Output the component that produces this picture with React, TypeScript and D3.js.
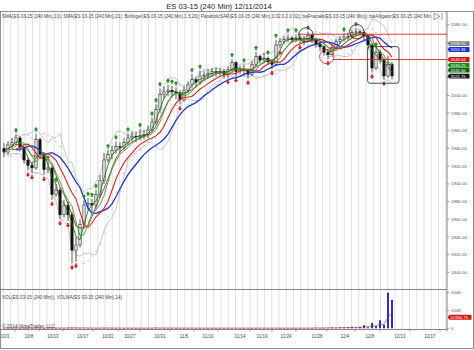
import React from "react";
import * as d3 from "d3";

// ---------- data ----------
const opens = [1940,1936,1944,1947,1952,1941,1927,1921,1918,1950,
 1933,1916,1918,1888,1893,1865,1876,1865,1825,1831,
 1854,1876,1878,1876,1888,1904,1927,1933,1938,1942,
 1941,1947,1952,1954,1953,1955,1956,1961,1970,1984,
 2001,2004,2006,2004,2003,1995,2006,2012,2018,2015,
 2022,2023,2025,2027,2027,2027,2024,2029,2037,2027,
 2029,2029,2024,2035,2044,2040,2042,2038,2035,2057,
 2061,2063,2065,2063,2065,2063,2063,2068,2063,2058,
 2055,2049,2046,2054,2061,2063,2066,2067,2071,2072,
 2071,2067,2057,2031,2049,2040,2022,2035];
const closes = [1936,1944,1947,1952,1941,1927,1921,1918,1950,1933,
 1916,1918,1888,1893,1865,1876,1865,1825,1831,1854,
 1876,1878,1876,1888,1904,1927,1933,1938,1942,1941,
 1947,1952,1954,1953,1955,1956,1961,1970,1984,2001,
 2004,2006,2004,2003,1995,2006,2012,2018,2015,2022,
 2023,2025,2027,2027,2027,2024,2029,2037,2027,2029,
 2029,2024,2035,2044,2040,2042,2038,2035,2057,2061,
 2063,2065,2063,2065,2063,2063,2068,2063,2058,2055,
 2049,2046,2054,2061,2063,2066,2067,2071,2072,2071,
 2067,2057,2031,2049,2040,2022,2035,2022];
const highs = [1946,1948,1952,1956,1954,1943,1930,1925,1957,1952,
 1936,1925,1920,1900,1896,1882,1880,1868,1840,1860,
 1881,1884,1883,1893,1910,1935,1938,1943,1948,1947,
 1952,1957,1960,1959,1962,1961,1966,1975,1990,2008,
 2010,2012,2011,2009,2006,2010,2016,2024,2021,2028,
 2028,2030,2031,2032,2031,2030,2033,2041,2039,2034,
 2035,2031,2039,2049,2046,2048,2044,2041,2063,2065,
 2067,2069,2067,2069,2068,2067,2072,2070,2065,2061,
 2057,2052,2058,2064,2067,2070,2071,2074,2076,2074,
 2073,2069,2059,2053,2052,2043,2045,2038];
const lows = [1931,1933,1941,1945,1937,1923,1915,1912,1916,1928,
 1910,1912,1882,1885,1860,1862,1858,1810,1812,1828,
 1850,1870,1868,1872,1884,1900,1924,1928,1934,1935,
 1938,1944,1948,1947,1949,1950,1952,1958,1967,1980,
 1996,1999,1998,1996,1990,1993,2003,2009,2010,2012,
 2017,2019,2021,2021,2021,2019,2020,2026,2022,2024,
 2023,2019,2022,2033,2036,2037,2034,2030,2033,2053,
 2058,2060,2059,2060,2059,2057,2061,2059,2054,2050,
 2045,2041,2044,2052,2058,2061,2063,2065,2068,2067,
 2063,2052,2026,2029,2036,2018,2020,2018];
const volumesK = [2,1,2,3,1,2,2,1,3,2,
 1,2,3,2,2,1,3,4,3,2,
 2,1,2,1,2,3,2,1,1,2,
 1,2,1,1,2,1,1,2,3,2,
 1,1,2,1,2,1,1,2,1,1,
 2,1,1,1,2,1,1,2,1,1,
 1,2,1,1,2,1,1,1,2,1,
 1,2,1,1,1,2,1,2,3,2,
 2,3,4,3,5,4,6,8,5,7,
 17,6,30,12,45,20,200,160];
const fractalUp = [3,8,11,13,20,21,22,23,26,28,31,34,37,38,39,41,42,43,47,49,57,60,63,66,68,71,73,76,85,88,93];
const fractalDown = [6,7,10,12,14,16,17,18,44,56,58,61,67,69,74,81,92,95];

const priceTicks = [1800,1820,1840,1860,1880,1900,1920,1940,1960,1980,2000,2020,2040,2060,2080];
const volTicks = [0, 100000, 200000];
const volTickLabels = ["0", "100K", "200K"];
const dateLabels = ["10/3","10/8","10/13","10/17","10/22","10/27","10/31","11/5","11/10","11/14","11/19","11/24","11/28","12/4","12/8","12/13","12/17"];
const dateSlots = [0.25,6.25,12.25,19.75,26,31.5,39,45,51,59,64.5,70.5,78.25,85.25,91.5,99,106.5];

const badgeValues = [2058.5, 2051.96, 2040.64, 2034.25, 2031.5, 2021.75];
const volBadgeValue = 61956.75;

// drawn annotations (data coordinates: bar slot, price)
const levelPrices = [2069.2, 2040.64];
const levelStartSlots = [73.5, 82.25];
const circleSlots = [75.5, 88.2, 80.7];
const circlePrices = [2068.4, 2072.1, 2043.9];
const boxSlots = [90.9, 98.75];
const boxPrices = [2055.2, 2013.8];

// ---------- styles ----------
const badgeColors = ["#7d7d7d", "#1d2fd2", "#d81212", "#168a16", "#0c5f0c", "#151515"];
const circleColors = ["#222", "#222", "#e02020"];
const FONT = "'Liberation Sans', Arial, sans-serif";

// ---------- indicator helpers ----------
function sma(src: number[], n: number) {
  return src.map((_, i) => d3.mean(src.slice(Math.max(0, i - n + 1), i + 1)) as number);
}
function smma(src: number[], n: number) {
  const out: number[] = [];
  src.forEach((v, i) => out.push(i === 0 ? v : (out[i - 1] * (n - 1) + v) / n));
  return out;
}
function pstd(src: number[], n: number) {
  return src.map((_, i) => {
    const w = src.slice(Math.max(0, i - n + 1), i + 1);
    const m = d3.mean(w) as number;
    return Math.sqrt(d3.sum(w, (v) => (v - m) * (v - m)) / w.length);
  });
}
function psar(h: number[], l: number[], step: number, maxAf: number) {
  const out: number[] = [];
  let up = true, af = step, ep = h[0], sar = l[0];
  out.push(sar);
  for (let i = 1; i < h.length; i++) {
    sar = sar + af * (ep - sar);
    if (up) {
      sar = Math.min(sar, l[i - 1], i > 1 ? l[i - 2] : l[i - 1]);
      if (l[i] < sar) { up = false; sar = ep; ep = l[i]; af = step; }
      else if (h[i] > ep) { ep = h[i]; af = Math.min(af + step, maxAf); }
    } else {
      sar = Math.max(sar, h[i - 1], i > 1 ? h[i - 2] : h[i - 1]);
      if (h[i] > sar) { up = true; sar = ep; ep = h[i]; af = step; }
      else if (l[i] < ep) { ep = l[i]; af = Math.min(af + step, maxAf); }
    }
    out.push(sar);
  }
  return out;
}

export default function App() {
  const xs = d3.scaleLinear().domain([0, 110.75]).range([4, 447]);
  const yP = d3.scaleLinear().domain([1800, 2080]).range([272.3, 24.7]);
  const yV = d3.scaleLinear().domain([0, 200000]).range([328.3, 292.7]);
  const last = closes.length - 1;

  const median = highs.map((h, i) => (h + lows[i]) / 2);
  const jaw = smma(median, 5), teeth = smma(median, 3), lips = smma(median, 2);
  const smaFast = sma(closes, 3), smaSlow = sma(closes, 5);
  const bbMid = sma(closes, 7), bbSd = pstd(closes, 7);
  const bbUp = bbMid.map((m, i) => m + 1.8 * bbSd[i]);
  const bbLo = bbMid.map((m, i) => m - 1.8 * bbSd[i]);
  const sar = psar(highs, lows, 0.04, 0.2);
  const vols = volumesK.map((v) => v * 1000);
  const volMa = sma(vols, 5);

  const line = d3.line<[number, number]>().x((d) => xs(d[0])).y((d) => yP(d[1]));
  const shifted = (src: number[], k: number) =>
    line(src.map((v, i) => [i + k, v] as [number, number]).filter((d) => d[0] <= last + 0.5)) || "";
  const vline = d3.line<[number, number]>().x((d) => xs(d[0])).y((d) => yV(d[1]));

  const gridXs = d3.range(-0.125, 110.8, 1.8125).map((s) => xs(s));
  const bw = 2.3;

  // badge layout: keep at least 5px between stacked badges
  const badgeYs: number[] = [];
  badgeValues.forEach((v, i) => {
    let y = yP(v);
    if (i > 0 && y - badgeYs[i - 1] < 5) y = badgeYs[i - 1] + 5;
    badgeYs.push(y);
  });
  const hiddenTick = (y: number) => badgeYs.some((b) => Math.abs(b - y) < 4.5);

  const upArrow = (cx: number, tipY: number) =>
    `M${cx},${tipY} L${cx + 2.2},${tipY + 2.6} L${cx + 0.8},${tipY + 2.6} L${cx + 0.8},${tipY + 4.6} L${cx - 0.8},${tipY + 4.6} L${cx - 0.8},${tipY + 2.6} L${cx - 2.2},${tipY + 2.6} Z`;
  const downArrow = (cx: number, tipY: number) =>
    `M${cx},${tipY} L${cx + 2.2},${tipY - 2.6} L${cx + 0.8},${tipY - 2.6} L${cx + 0.8},${tipY - 4.6} L${cx - 0.8},${tipY - 4.6} L${cx - 0.8},${tipY - 2.6} L${cx - 2.2},${tipY - 2.6} Z`;

  const badge = (y: number, color: string, text: string, key: string, w = 20) => (
    <g key={key}>
      <path d={`M447.5,${y} L449.5,${y - 2.4} L${449.5 + w},${y - 2.4} L${449.5 + w},${y + 2.4} L449.5,${y + 2.4} Z`} fill={color} />
      <text x={450.5} y={y + 1.5} fontSize={4.2} fill="#fff" fontFamily={FONT}>{text}</text>
    </g>
  );

  return (
    <svg width={474} height={350} style={{ position: "absolute", left: 0, top: 0, background: "#fff" }}>
      <defs>
        <clipPath id="pc"><rect x={1} y={11} width={446} height={278} /></clipPath>
        <clipPath id="vc"><rect x={1} y={289} width={446} height={40} /></clipPath>
      </defs>
      <rect x={0} y={0} width={474} height={350} fill="#fff" />
      <text x={219} y={9} fontSize={7.6} textAnchor="middle" fill="#222" fontFamily={FONT}>ES 03-15 (240 Min)  12/11/2014</text>

      {/* vertical grid */}
      {gridXs.map((x, i) => (
        <line key={"g" + i} x1={x} x2={x} y1={11} y2={329} stroke="#d9d9d9" strokeWidth={0.8} />
      ))}

      {/* price panel */}
      <g clipPath="url(#pc)">
        <path d={shifted(bbUp, 0)} fill="none" stroke="#b5b5b5" strokeWidth={0.7} />
        <path d={shifted(bbLo, 0)} fill="none" stroke="#b5b5b5" strokeWidth={0.7} />
        {sar.map((v, i) => (
          <rect key={"s" + i} x={xs(i) - 0.5} y={yP(v) - 0.5} width={1} height={1} fill="#9a9a9a" />
        ))}
        {closes.map((c, i) => {
          const o = opens[i];
          const x = xs(i);
          const top = yP(Math.max(o, c)), bot = yP(Math.min(o, c));
          return (
            <g key={"c" + i}>
              <line x1={x} x2={x} y1={yP(highs[i])} y2={yP(lows[i])} stroke="#111" strokeWidth={0.7} />
              <rect x={x - bw / 2} y={top} width={bw} height={Math.max(0.6, bot - top)}
                fill={c >= o ? "#e8e8e8" : "#111"} stroke="#111" strokeWidth={0.5} />
            </g>
          );
        })}
        <path d={shifted(smaSlow, 0)} fill="none" stroke="#8d1c1c" strokeWidth={0.8} />
        <path d={shifted(smaFast, 0)} fill="none" stroke="#0b6b0b" strokeWidth={0.8} />
        <path d={shifted(jaw, 3)} fill="none" stroke="#1f35d8" strokeWidth={1.3} />
        <path d={shifted(teeth, 2)} fill="none" stroke="#e02020" strokeWidth={1.1} />
        <path d={shifted(lips, 1)} fill="none" stroke="#27a827" strokeWidth={0.9} />
        {fractalUp.map((i) => (
          <path key={"fu" + i} d={upArrow(xs(i), yP(highs[i]) - 6.5)} fill="#1e8e1e" />
        ))}
        {fractalDown.map((i) => (
          <path key={"fd" + i} d={downArrow(xs(i), yP(lows[i]) + 6.5)} fill="#e01818" />
        ))}
        {levelPrices.map((p, i) => (
          <line key={"lv" + i} x1={xs(levelStartSlots[i])} x2={447} y1={yP(p)} y2={yP(p)} stroke="#e02424" strokeWidth={0.9} />
        ))}
        {circleSlots.map((s, i) => (
          <circle key={"ci" + i} cx={xs(s)} cy={yP(circlePrices[i])} r={7.2} fill="none" stroke={circleColors[i]} strokeWidth={0.8} />
        ))}
        <rect x={xs(boxSlots[0])} y={yP(boxPrices[0])} width={xs(boxSlots[1]) - xs(boxSlots[0])}
          height={yP(boxPrices[1]) - yP(boxPrices[0])} rx={2.5} fill="none" stroke="#222" strokeWidth={0.8} />
      </g>
      <text x={2} y={17.5} fontSize={4.6} fill="#444" fontFamily={FONT} textLength={429} lengthAdjust="spacingAndGlyphs">
        SMA(ES 03-15 (240 Min),10); SMA(ES 03-15 (240 Min),21); Bollinger(ES 03-15 (240 Min),1.5,20); ParabolicSAR(ES 03-15 (240 Min),0.02,0.2,0.02); bwFractals(ES 03-15 (240 Min)); bwAlligator(ES 03-15 (240 Min
      </text>
      <path d="M434,13.2 L440,16.5 L434,19.8 Z" fill="none" stroke="#777" strokeWidth={0.7} />
      <line x1={442} x2={442} y1={13} y2={20} stroke="#777" strokeWidth={0.8} />

      {/* volume panel */}
      <g clipPath="url(#vc)">
        {vols.map((v, i) => (
          <rect key={"v" + i} x={xs(i) - 1} y={yV(v)} width={2} height={Math.max(0.4, yV(0) - yV(v))} fill="#2b2bd0" />
        ))}
        <path d={vline(volMa.map((v, i) => [i, v] as [number, number])) || ""} fill="none" stroke="#b03030" strokeWidth={0.6} />
      </g>
      <text x={2} y={298.5} fontSize={4.5} fill="#444" fontFamily={FONT} textLength={120} lengthAdjust="spacingAndGlyphs">
        VOL(ES 03-15 (240 Min)), VOLMA(ES 03-15 (240 Min),14)
      </text>
      <text x={2} y={327.5} fontSize={4.5} fill="#444" fontFamily={FONT} textLength={53} lengthAdjust="spacingAndGlyphs">© 2014 NinjaTrader, LLC</text>

      {/* frame and axes */}
      <line x1={0} x2={447} y1={289.5} y2={289.5} stroke="#666" strokeWidth={0.8} />
      <line x1={0} x2={447} y1={329.5} y2={329.5} stroke="#666" strokeWidth={0.8} />
      <line x1={447} x2={447} y1={11} y2={331} stroke="#666" strokeWidth={0.8} />
      <rect x={0.5} y={11.5} width={473} height={337} fill="none" stroke="#777" strokeWidth={0.8} />

      {priceTicks.map((p) => (
        <g key={"pt" + p}>
          <line x1={447} x2={449.5} y1={yP(p)} y2={yP(p)} stroke="#666" strokeWidth={0.6} />
          {!hiddenTick(yP(p)) && (
            <text x={451} y={yP(p) + 1.6} fontSize={4.4} fill="#555" fontFamily={FONT}>{d3.format(".2f")(p)}</text>
          )}
        </g>
      ))}
      {volTicks.map((v, i) => (
        <g key={"vt" + v}>
          <line x1={447} x2={449.5} y1={yV(v)} y2={yV(v)} stroke="#666" strokeWidth={0.6} />
          <text x={451} y={yV(v) + 1.6} fontSize={4.4} fill="#555" fontFamily={FONT}>{volTickLabels[i]}</text>
        </g>
      ))}
      {badgeValues.map((v, i) => badge(badgeYs[i], badgeColors[i], d3.format(".2f")(v), "b" + i))}
      {badge(yV(volBadgeValue), "#d81212", d3.format(".2f")(volBadgeValue), "vb", 22)}

      {dateLabels.map((d, i) => (
        <g key={"d" + d}>
          <line x1={xs(dateSlots[i]) + 10} x2={xs(dateSlots[i]) + 10} y1={329.5} y2={331.5} stroke="#666" strokeWidth={0.6} />
          <text x={xs(dateSlots[i])} y={338} fontSize={4.5} textAnchor="middle" fill="#444" fontFamily={FONT}>{d}</text>
        </g>
      ))}
    </svg>
  );
}
